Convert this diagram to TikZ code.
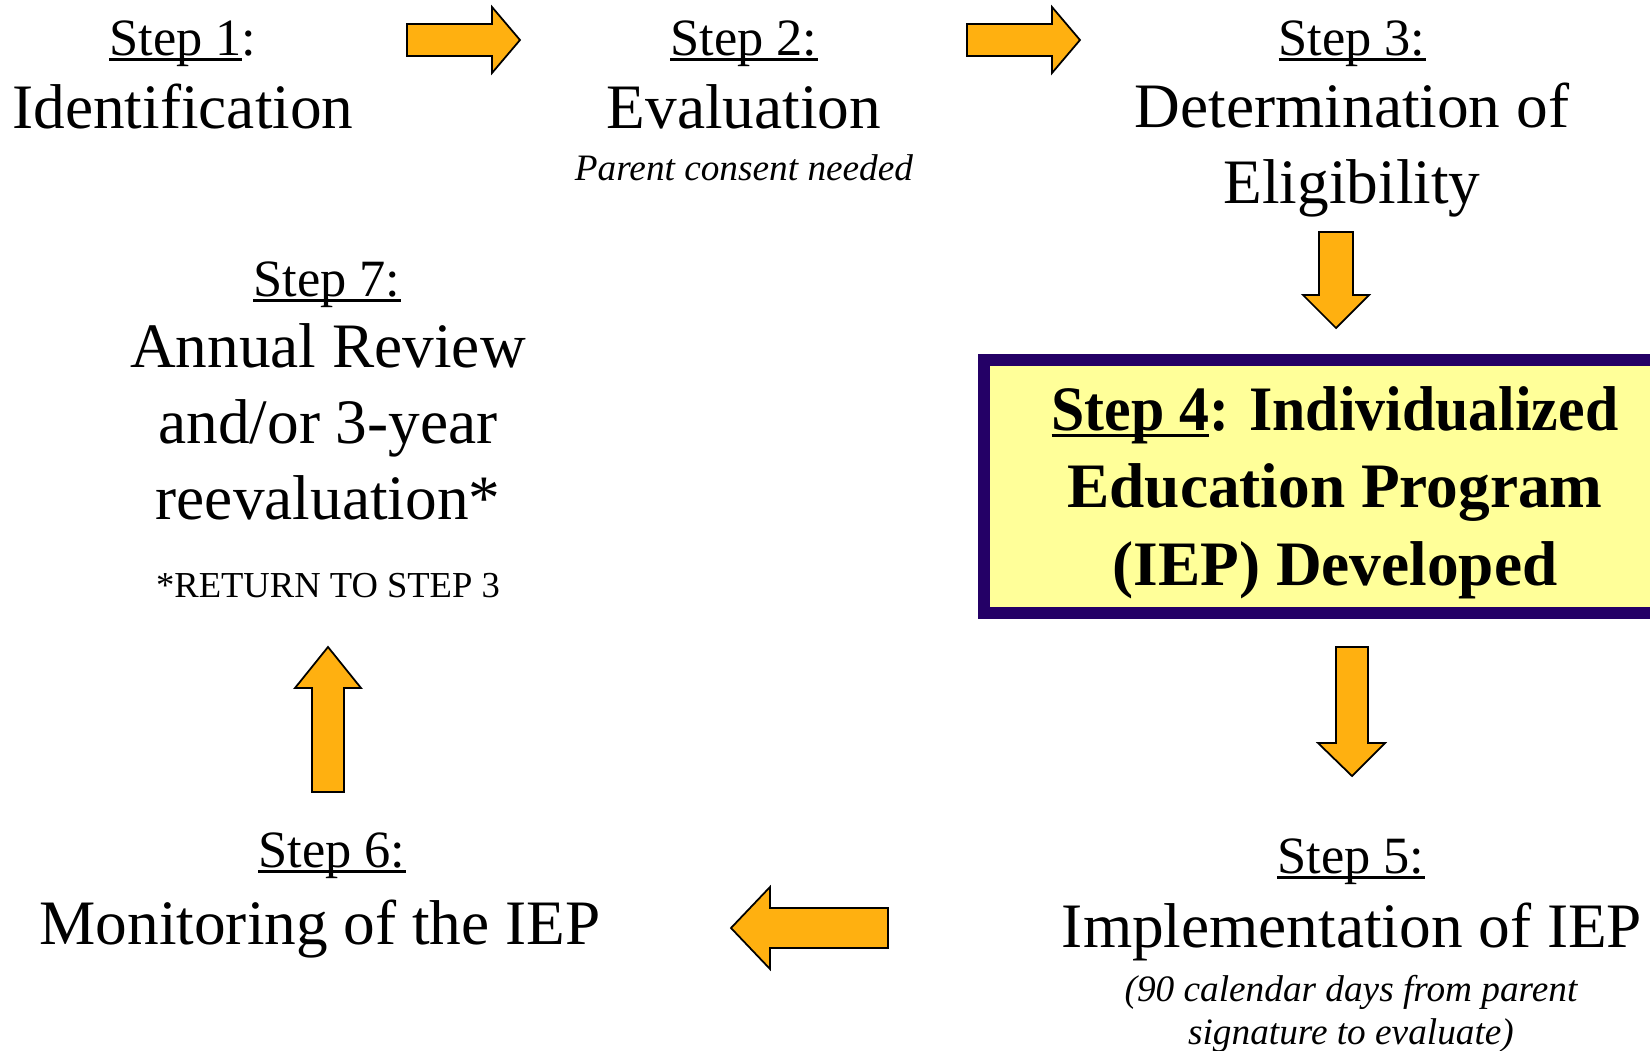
\documentclass[tikz,border=0pt]{standalone}
\usepackage{fontspec}
\usepackage{graphicx}
\setmainfont{Liberation Serif}

\definecolor{arrowgold}{RGB}{255,176,16}
\definecolor{boxnavy}{RGB}{36,0,102}
\definecolor{boxyellow}{RGB}{255,255,153}

\newcommand{\steprule}[1]{\setbox0=\hbox{#1}\rlap{\rule[-0.6mm]{\wd0}{0.32mm}}\box0}

\begin{document}
\begin{tikzpicture}[x=0.01cm, y=-0.01cm,
    title/.style={anchor=base, inner sep=0pt, font=\fontsize{14.9}{18}\selectfont},
    body/.style={anchor=base, inner sep=0pt, align=center,
                 font=\fontsize{18}{21.5}\selectfont},
    note/.style={anchor=base, inner sep=0pt, align=center,
                 font=\fontsize{10.6}{12.2}\selectfont\itshape},
    iepbox/.style={draw=boxnavy, fill=boxyellow, line width=1.2mm,
                   minimum width=7.02cm, minimum height=2.53cm, inner sep=0pt},
    flow/.style={draw=black, fill=arrowgold, line width=0.5pt, line join=miter}
  ]
    \clip (0,0) rectangle (1650,1051);

    % steps (multi-line nodes sit on their last baseline)
    \node[title] (t1) at (183,55)  {\steprule{Step 1}:};
    \node[body]  (s1) at (183,128) {Identification};

    \node[title] (t2) at (744,55)  {\steprule{Step 2:}};
    \node[body]  (s2) at (744,128) {Evaluation};
    \node[note]  (n2) at (744,180) {Parent consent needed};

    \node[title] (t3) at (1352,55)  {\steprule{Step 3:}};
    \node[body]  (s3) at (1352,203) {Determination of\\Eligibility};

    \node[iepbox] (box4) at (1335,486.5) {};
    \node[body, font=\fontsize{18}{21.9}\selectfont\bfseries] (s4) at (1335,585)
         {\scalebox{0.945}[1]{\steprule{Step 4}: Individualized}\\Education Program\\(IEP) Developed};

    \node[title] (t5) at (1351,873) {\steprule{Step 5:}};
    \node[body]  (s5) at (1352,947) {Implementation of IEP};
    \node[note]  (n5) at (1351,1044) {(90 calendar days from parent\\signature to evaluate)};

    \node[title] (t6) at (332,867) {\steprule{Step 6:}};
    \node[body]  (s6) at (320,944) {Monitoring of the IEP};

    \node[title] (t7) at (327,296) {\steprule{Step 7:}};
    \node[body]  (s7) at (328,519) {Annual Review\\and/or 3-year\\reevaluation*};
    \node[note, font=\fontsize{10.4}{12.2}\selectfont] (n7) at (328,597) {*RETURN TO STEP 3};

    % block arrows between the steps
    \draw[flow] (407,24) -- (492,24) -- (492,7) -- (520,40) -- (492,73) -- (492,56) -- (407,56) -- cycle;
    \draw[flow] (967,24) -- (1052,24) -- (1052,7) -- (1080,40) -- (1052,73) -- (1052,56) -- (967,56) -- cycle;
    \draw[flow] (1319,232) -- (1353,232) -- (1353,295) -- (1369,295) -- (1336,328) -- (1303,295) -- (1319,295) -- cycle;
    \draw[flow] (1336,647) -- (1368,647) -- (1368,743) -- (1385,743) -- (1352,776) -- (1318,743) -- (1336,743) -- cycle;
    \draw[flow] (888,908) -- (770,908) -- (770,887) -- (731,928) -- (770,969) -- (770,948) -- (888,948) -- cycle;
    \draw[flow] (312,792) -- (344,792) -- (344,688) -- (361,688) -- (328,647) -- (295,688) -- (312,688) -- cycle;
  \end{tikzpicture}
\end{document}
